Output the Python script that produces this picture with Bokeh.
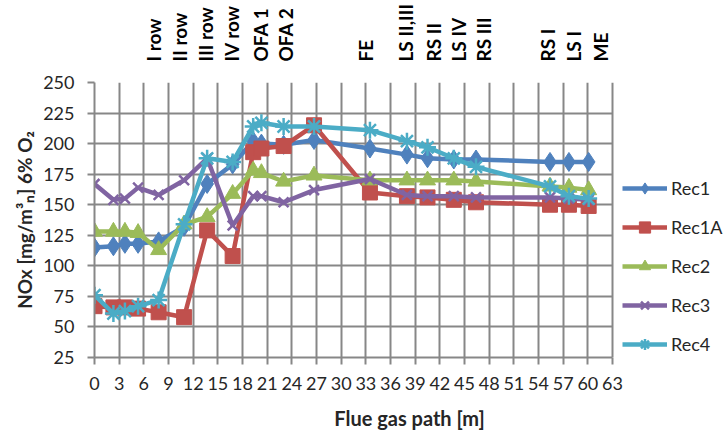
import math
from bokeh.plotting import figure
from bokeh.models import (Range1d, LinearAxis, FixedTicker, Legend, LegendItem)
from bokeh.embed import file_html
from bokeh.resources import INLINE

# ---- data ----
x_path = [0, 2.3, 3.7, 5.3, 7.8, 10.9, 13.7, 16.8, 19.3, 20.3, 23, 26.7,
          33.5, 38, 40.5, 43.7, 46.4, 55.4, 57.7, 60.1]
rec1 = [115, 116, 118, 118, 120, 132, 167, 183, 202, 200, 199, 203,
        196, 191, 188, 187, 187, 185, 185, 185]
rec1a = [67, 66, 66, 65, 62, 58, 129, 108, 193, 196, 198, 215,
         160, 157, 156, 154, 152, 150, 150, 149]
rec2 = [128, 128, 128, 127, 113, 134, 140, 159, 178, 176, 169, 174,
        170, 170, 170, 170, 169, 165, 164, 162]
rec3 = [167, 154, 155, 164, 158, 170, 188, 133, 157, 157, 152, 162,
        171, 158, 157, 157, 156, 156, 155, 154]
rec4 = [76, 61, 63, 67, 72, 134, 188, 185, 214, 217, 214, 214,
        211, 202, 197, 188, 181, 165, 157, 155]
series_names = ["Rec1", "Rec1A", "Rec2", "Rec3", "Rec4"]

station_names = ["I row", "II row", "III row", "IV row", "OFA 1", "OFA 2", "FE",
                 "LS II,III", "RS II", "LS IV", "RS III", "RS I", "LS I", "ME"]
station_x = [7.2, 10.3, 13.5, 16.7, 20.2, 23.2, 33.0, 37.8, 41.2, 44.3, 47.3,
             55.1, 58.3, 61.6]

x_min, x_max = 0, 63
y_min, y_max = 25, 250
x_ticks = list(range(x_min, x_max + 1, 3))
y_ticks = list(range(y_min, y_max + 1, 25))

# ---- layout / styles ----
W, H = 724, 432
PLOT_L, PLOT_R, PLOT_T, PLOT_B = 94, 612, 82, 360   # grid area in pixels
FRAME_R = W                                          # frame extends under legend
x_end = x_max * (FRAME_R - PLOT_L) / (PLOT_R - PLOT_L)

colors = ["#4F81BD", "#C0504D", "#9BBB59", "#8064A2", "#4BACC6"]
markers = ["diamond", "square", "triangle", "x", "asterisk"]
msizes = [19, 15, 16, 14, 17]
grid_col = "#878787"
txt_col = "#262626"
FONT = "Lato"

p = figure(width=W, height=H, output_backend="svg", toolbar_location=None,
           x_range=Range1d(x_min, x_end), y_range=Range1d(y_min, y_max),
           min_border_left=PLOT_L, min_border_right=W - FRAME_R,
           min_border_top=PLOT_T, min_border_bottom=H - PLOT_B)
p.outline_line_color = None
p.background_fill_color = "white"
p.border_fill_color = "white"

p.xaxis.ticker = FixedTicker(ticks=x_ticks)
p.yaxis.ticker = FixedTicker(ticks=y_ticks)
p.xaxis.bounds = (x_min, x_max)
for g in (p.xgrid, p.ygrid):
    g.grid_line_color = grid_col
    g.grid_line_width = 2
p.xgrid.ticker = FixedTicker(ticks=x_ticks)
p.ygrid.ticker = FixedTicker(ticks=y_ticks)
p.ygrid.cross_bounds = (x_min, x_max)

for ax in (p.xaxis, p.yaxis):
    ax.axis_line_color = grid_col
    ax.axis_line_width = 2
    ax.major_tick_line_color = grid_col
    ax.major_tick_line_width = 2
    ax.major_tick_in = 0
    ax.major_tick_out = 7
    ax.minor_tick_line_color = None
    ax.major_label_text_font = FONT
    ax.major_label_text_font_size = "18px"
    ax.major_label_text_color = txt_col
    ax.axis_label_text_font = FONT
    ax.axis_label_text_font_style = "bold"
    ax.axis_label_text_color = txt_col

p.xaxis.major_label_standoff = 12
p.xaxis.axis_label = "Flue gas path [m]"
p.xaxis.axis_label_text_font_size = "20px"
p.xaxis.axis_label_standoff = 13
p.yaxis.major_label_standoff = 13
p.yaxis.axis_label = "NOx [mg/m³ₙ] 6% O₂"
p.yaxis.axis_label_text_font_size = "19px"
p.yaxis.axis_label_standoff = 4

# station labels on top
top = LinearAxis(ticker=FixedTicker(ticks=station_x),
                 major_label_overrides={float(x): n for x, n in zip(station_x, station_names)},
                 major_label_orientation=math.pi / 2)
top.axis_line_color = None
top.major_tick_line_color = None
top.minor_tick_line_color = None
top.major_label_standoff = 15
top.major_label_text_font = FONT
top.major_label_text_font_size = "19px"
top.major_label_text_font_style = "bold"
top.major_label_text_color = "black"
p.add_layout(top, "above")

items = []
for name, ys, c, m, s in zip(series_names, [rec1, rec1a, rec2, rec3, rec4],
                             colors, markers, msizes):
    ln = p.line(x_path, ys, line_color=c, line_width=4.5)
    lw = 2.5 if m in ("x", "asterisk") else 1
    sc = p.scatter(x_path, ys, marker=m, size=s, fill_color=c, line_color=c,
                   line_width=lw)
    items.append(LegendItem(label=name, renderers=[ln, sc]))

legend = Legend(items=items, location=(622 - PLOT_L, -1), orientation="vertical")
legend.label_text_font = FONT
legend.label_text_font_size = "18px"
legend.label_text_color = txt_col
legend.glyph_width = 45
legend.glyph_height = 28
legend.spacing = 11
legend.padding = 0
legend.margin = 0
legend.label_standoff = 4
legend.border_line_color = None
legend.background_fill_alpha = 0
p.add_layout(legend, "center")

open("out.html", "w").write(file_html(p, INLINE))
